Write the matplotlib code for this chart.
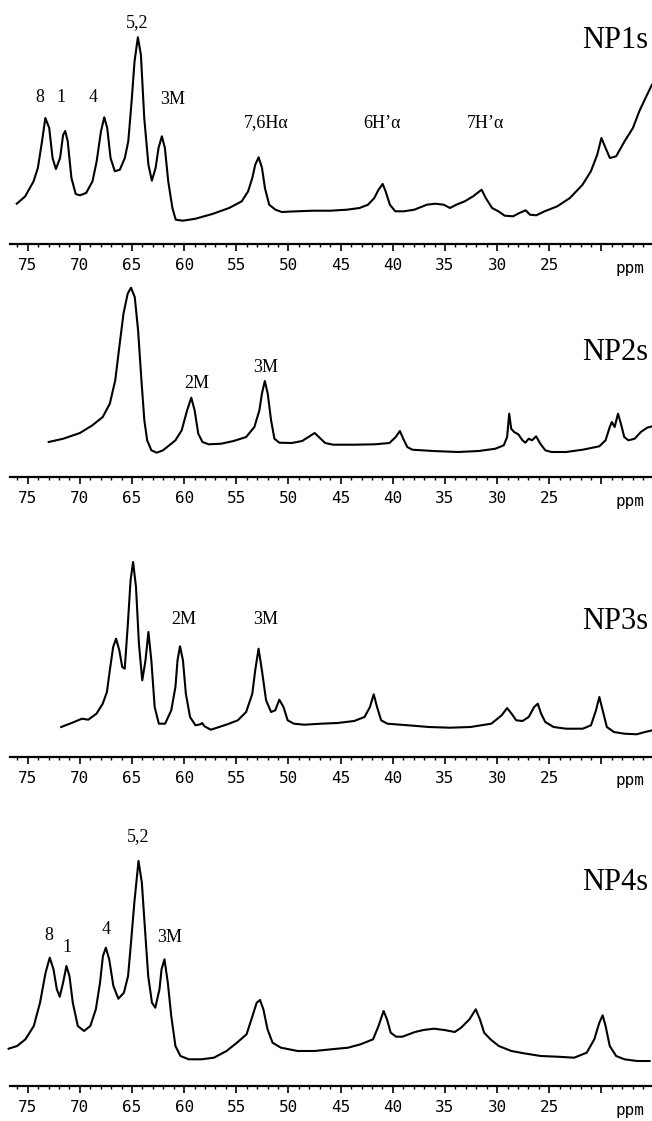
import numpy as np
import matplotlib.pyplot as plt
from matplotlib.ticker import MultipleLocator, FixedLocator, FixedFormatter

# traced spectra: chemical shift (ppm) and signal height (arbitrary units)
np1_ppm = [76.05, 75.24, 74.44, 74.03, 73.63, 73.31, 72.94, 72.62, 72.30, 71.90, 71.61, 71.41,
           71.17, 70.81, 70.40, 70.00, 69.40, 68.79, 68.39, 67.98, 67.66, 67.38, 67.06, 66.65,
           66.17, 65.69, 65.36, 65.04, 64.76, 64.44, 64.15, 63.83, 63.43, 63.10, 62.74, 62.46,
           62.14, 61.85, 61.53, 61.13, 60.81, 60.12, 58.91, 57.30, 55.69, 54.48, 53.87, 53.47,
           53.19, 52.86, 52.54, 52.26, 51.85, 51.25, 50.65, 49.23, 47.62, 46.01, 44.40, 43.19,
           42.38, 41.77, 41.37, 40.97, 40.69, 40.28, 39.76, 38.95, 37.94, 36.73, 35.93, 35.12,
           34.52, 33.91, 33.10, 32.30, 31.49, 31.09, 30.48, 29.88, 29.27, 28.47, 27.86, 27.26,
           26.85, 26.25, 25.44, 24.23, 23.02, 21.81, 21.01, 20.40, 20.00, 19.60, 19.19, 18.59,
           17.78, 16.98, 16.37, 15.77, 15.16]
np1_int = [40.3, 47.7, 62.7, 76, 102.7, 126, 116, 86, 75, 86, 109, 113,
           103, 66, 50, 48.7, 51, 62.7, 82.7, 112.7, 126.7, 116, 86, 72.7,
           74.3, 86, 102.7, 142.7, 182.7, 206.7, 189.3, 126, 79.3, 63.3, 76, 96,
           107.7, 96, 62.7, 36, 24.3, 23.3, 25.3, 30, 36, 42.7, 52.7, 66,
           79.3, 86.7, 76, 56, 39.3, 34.3, 32, 32.7, 33.3, 33.3, 34.3, 36,
           39.3, 46, 54.3, 60, 52.7, 39.3, 32.7, 32.7, 34.3, 39.3, 40.3, 39.3,
           36, 39.3, 42.7, 47.7, 54.3, 46, 36, 32.7, 28.3, 27.7, 31, 33.7,
           29.3, 28.7, 32.7, 37.7, 46, 59.3, 72.7, 89.3, 106, 96, 86, 87.7,
           102.7, 116, 132.7, 146, 159.3]

np2_ppm = [72.99, 71.59, 70.00, 68.80, 67.81, 67.13, 66.61, 66.22, 65.82, 65.42, 65.10, 64.74,
           64.42, 64.10, 63.82, 63.55, 63.15, 62.63, 62.03, 61.43, 60.84, 60.24, 59.72, 59.32,
           59.00, 58.65, 58.25, 57.65, 56.45, 55.26, 54.06, 53.27, 52.79, 52.55, 52.27, 51.99,
           51.67, 51.35, 50.88, 49.68, 48.69, 48.09, 47.49, 47.09, 46.49, 45.70, 43.71, 41.71,
           40.32, 39.72, 39.32, 39.00, 38.61, 38.13, 36.14, 33.75, 31.75, 30.16, 29.36, 29.04,
           28.84, 28.65, 28.37, 27.97, 27.57, 27.29, 26.97, 26.65, 26.26, 25.86, 25.38, 24.78,
           23.39, 21.79, 20.20, 19.60, 19.20, 19.00, 18.73, 18.41, 18.13, 17.81, 17.41, 16.81,
           16.22, 15.62, 15.10]
np2_int = [35, 38.3, 44, 51.7, 60, 73.3, 96.7, 130, 163.3, 183.3, 189.3, 180,
           146.7, 96.7, 56.7, 36.7, 26.7, 24.3, 26.7, 31.7, 36.7, 46.7, 66.7, 79.3,
           66.7, 43.3, 35, 32.7, 33.3, 36, 40, 50, 66.7, 83.3, 96, 83.3,
           56.7, 38.3, 34.3, 34, 36, 40, 44, 40, 34, 32.3, 32.3, 32.7,
           34, 40, 46, 38.3, 30, 27.3, 26, 25, 26, 28.3, 31.7, 40,
           63.3, 48.3, 45, 42.7, 36.7, 34.3, 38.3, 36.7, 40.7, 33.3, 26.7, 25,
           25, 27.3, 30.7, 36.7, 50, 55, 50, 63.3, 53.3, 40, 36.7, 38.3,
           45, 49.3, 50.7]

np3_ppm = [71.79, 70.80, 69.80, 69.20, 68.41, 67.81, 67.41, 67.13, 66.81, 66.53, 66.22, 65.94,
           65.70, 65.42, 65.14, 64.90, 64.62, 64.34, 64.02, 63.71, 63.43, 63.15, 62.83, 62.43,
           61.83, 61.24, 60.84, 60.64, 60.40, 60.12, 59.84, 59.44, 58.92, 58.45, 58.29, 58.05,
           57.45, 56.85, 55.86, 54.86, 54.06, 53.47, 53.19, 52.87, 52.55, 52.15, 51.67, 51.27,
           50.88, 50.48, 50.08, 49.48, 48.49, 46.89, 45.30, 43.71, 42.71, 42.19, 41.83, 41.51,
           41.12, 40.52, 38.53, 36.53, 34.54, 32.55, 30.56, 29.56, 29.04, 28.57, 28.17, 27.57,
           26.97, 26.45, 26.10, 25.78, 25.38, 24.58, 23.39, 21.79, 21.00, 20.52, 20.20, 19.88,
           19.48, 18.80, 17.81, 16.61, 15.82, 15.10]
np3_int = [30, 34, 38.3, 37.3, 43.3, 53.3, 65, 86.7, 110, 118.3, 106.7, 90,
           88.3, 130, 176.7, 195, 170, 113.3, 76.7, 96.7, 125, 96.7, 50, 33.3,
           33.3, 46.7, 70, 96.7, 110.7, 96.7, 63.3, 40, 31.7, 32.7, 34, 30.7,
           27.3, 29.3, 32.7, 36.7, 45, 63.3, 86.7, 108.3, 86.7, 56.7, 45, 46.7,
           57.3, 50, 36.7, 33.3, 32.3, 33.3, 34, 36, 40, 50, 62.7, 50,
           36.7, 33.3, 31.7, 30, 29.3, 30, 33.3, 41.7, 49, 42.7, 36.7, 36,
           40, 50, 53.3, 43.3, 35, 30, 28.3, 28.3, 31.7, 46.7, 60, 46.7,
           30, 25, 23.3, 22.7, 25, 26.7]

np4_ppm = [76.83, 76.02, 75.22, 74.42, 73.82, 73.29, 72.89, 72.53, 72.21, 71.93, 71.61, 71.29,
           71.00, 70.68, 70.20, 69.60, 69.00, 68.47, 68.07, 67.79, 67.51, 67.19, 66.79, 66.31,
           65.78, 65.38, 65.10, 64.78, 64.38, 64.06, 63.78, 63.45, 63.09, 62.77, 62.37, 62.17,
           61.89, 61.57, 61.24, 60.84, 60.36, 59.56, 58.35, 57.15, 55.94, 54.94, 54.02, 53.45,
           53.05, 52.73, 52.41, 52.01, 51.53, 50.72, 49.12, 47.51, 45.90, 44.30, 43.09, 41.89,
           41.37, 40.88, 40.56, 40.20, 39.68, 39.08, 38.47, 37.87, 37.07, 36.06, 35.06, 34.06,
           33.45, 32.65, 32.05, 31.65, 31.24, 30.64, 29.84, 28.63, 27.43, 25.82, 24.22, 22.61,
           21.41, 20.68, 20.20, 19.88, 19.60, 19.20, 18.59, 17.79, 16.59, 15.38]
np4_int = [37.3, 40, 46.7, 60, 83.3, 113.3, 128.3, 116.7, 96.7, 89.3, 103.3, 120,
           110, 83.3, 60, 55, 60, 76.7, 103.3, 130, 138.3, 126.7, 100, 87.3,
           93.3, 110, 143.3, 183.3, 225, 203.3, 160, 110, 83.3, 78.3, 96.7, 116.7,
           126.7, 103.3, 70, 40, 30, 26.7, 26.7, 28.3, 35, 43.3, 51.7, 70,
           83.3, 86, 76.7, 56.7, 43.3, 38.3, 35, 35, 36.7, 38.3, 41.7, 46.7,
           60, 75, 66.7, 53.3, 49.3, 49.3, 51.7, 54, 56, 57.3, 56, 54,
           58.3, 66.7, 76.7, 66.7, 53.3, 46.7, 40, 35, 32.7, 30, 29.3, 28.3,
           33.3, 46.7, 63.3, 70.7, 60, 40, 30, 26.7, 25, 25]

# peak assignments: text, ppm, height
np1_labels = [("8", 73.8, 146), ("1", 71.8, 146), ("4", 68.7, 146), ("5,2", 64.5, 221),
              ("3M", 61.1, 145), ("7,6H\u03b1", 52.1, 121), ("6H\u2019\u03b1", 41.0, 121),
              ("7H\u2019\u03b1", 31.1, 121)]
np2_labels = [("2M", 58.8, 94), ("3M", 52.15, 110)]
np3_labels = [("2M", 60.0, 137), ("3M", 52.15, 137)]
np4_labels = [("8", 73.0, 151), ("1", 71.2, 139), ("4", 67.5, 157), ("5,2", 64.4, 249),
              ("3M", 61.4, 148)]

names = ["NP1s", "NP2s", "NP3s", "NP4s"]
name_heights = [204, 125, 135, 203]

tick_values = [75, 70, 65, 60, 55, 50, 45, 40, 35, 30, 25, 20]
tick_texts = ["75", "70", "65", "60", "55", "50", "45", "40", "35", "30", "25", ""]

W, H = 652, 1121
fig = plt.figure(figsize=(W / 100, H / 100), dpi=100)

spectra = [(np1_ppm, np1_int, np1_labels), (np2_ppm, np2_int, np2_labels),
           (np3_ppm, np3_int, np3_labels), (np4_ppm, np4_int, np4_labels)]
axis_rows = [244, 477, 757, 1086]
top_rows = [0, 270, 540, 830]

serif = "Liberation Serif"
mono = "DejaVu Sans Mono"

for i, (ppm, inten, labels) in enumerate(spectra):
    y0, y1 = axis_rows[i], top_rows[i]
    ax = fig.add_axes([10 / W, 1 - y0 / H, 642 / W, (y0 - y1) / H])
    ax.patch.set_visible(False)
    ax.plot(ppm, inten, color="black", lw=1.5, clip_on=False)
    ax.set_xlim(76.7, 15.15)
    ax.set_ylim(0, y0 - y1)

    for s in ["top", "left", "right"]:
        ax.spines[s].set_visible(False)
    ax.spines["bottom"].set_linewidth(1.6)
    ax.set_yticks([])
    ax.xaxis.set_major_locator(FixedLocator(tick_values))
    ax.xaxis.set_major_formatter(FixedFormatter(tick_texts))
    ax.xaxis.set_minor_locator(MultipleLocator(1))
    ax.tick_params(axis="x", which="major", direction="out", length=5, width=1.2,
                   pad=5, labelsize=11.5)
    ax.tick_params(axis="x", which="minor", direction="out", length=2.5, width=1.0)
    for lab in ax.get_xticklabels():
        lab.set_fontfamily(mono)
    ax.text(17.3, -24, "ppm", ha="center", va="center", family=mono, fontsize=11.5)

    for txt, x, y in labels:
        ax.text(x, y, txt, ha="center", va="center", family=serif, fontsize=13)
    ax.text(15.55, name_heights[i], names[i], ha="right", va="center",
            family=serif, fontsize=22)

fig.savefig("out.png", dpi=100)
